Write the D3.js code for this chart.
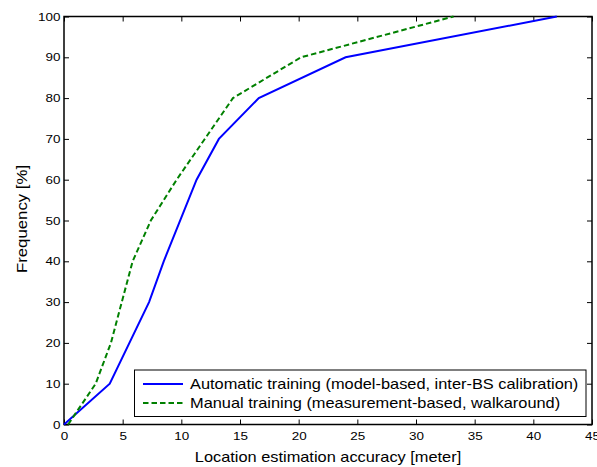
<!DOCTYPE html>
<html>
<head>
<meta charset="utf-8">
<script src="https://cdn.jsdelivr.net/npm/d3@7"></script>
<style>
  html, body { margin: 0; padding: 0; background: #fff; }
  svg { display: block; font-family: "Liberation Sans", Arial, sans-serif; }
</style>
</head>
<body>
<svg id="chart" width="597" height="467"></svg>
<script>
// CDF of location estimation error for two training methods
const seriesNames = [
  "Automatic training (model-based, inter-BS calibration)",
  "Manual training (measurement-based, walkaround)"
];
const autoAccuracy = [0, 3.9, 7.25, 8.5, 11.3, 13.2, 16.6, 24.0, 42.0];
const autoFrequency = [0, 10, 30, 40, 60, 70, 80, 90, 100];
const manualAccuracy = [0.35, 2.7, 4.0, 5.85, 7.4, 9.6, 14.4, 20.2, 33.2];
const manualFrequency = [0, 10, 20, 40, 50, 60, 80, 90, 100];
const xTicks = [0, 5, 10, 15, 20, 25, 30, 35, 40, 45];
const yTicks = [0, 10, 20, 30, 40, 50, 60, 70, 80, 90, 100];

const svg = d3.select("#chart");
const plotLeft = 64, plotRight = 592, plotTop = 16.5, plotBottom = 424.5;

const x = d3.scaleLinear().domain([0, 45]).range([plotLeft, plotRight]);
const y = d3.scaleLinear().domain([0, 100]).range([plotBottom, plotTop]);

const tickLen = 5;
const font = "Liberation Sans, Arial, sans-serif";
const stretch = 1.17; // text is set slightly wide

// Bottom axis with labels, ticks pointing inward
svg.append("g")
  .attr("transform", `translate(0,${plotBottom})`)
  .call(d3.axisBottom(x).tickValues(xTicks).tickSizeInner(-tickLen).tickSizeOuter(0).tickPadding(7))
  .call(g => g.select(".domain").remove())
  .call(g => g.selectAll("line").attr("stroke", "#000"))
  .call(g => g.selectAll("text").attr("font-size", 11.5).attr("fill", "#000").attr("font-family", font)
    .attr("transform", `scale(${stretch},1)`));

// Top axis (ticks only)
svg.append("g")
  .attr("transform", `translate(0,${plotTop})`)
  .call(d3.axisTop(x).tickValues(xTicks).tickSizeInner(-tickLen).tickSizeOuter(0).tickFormat(""))
  .call(g => g.select(".domain").remove())
  .call(g => g.selectAll("line").attr("stroke", "#000"));

// Left axis with labels
svg.append("g")
  .attr("transform", `translate(${plotLeft},0)`)
  .call(d3.axisLeft(y).tickValues(yTicks).tickSizeInner(-tickLen).tickSizeOuter(0).tickPadding(3))
  .call(g => g.select(".domain").remove())
  .call(g => g.selectAll("line").attr("stroke", "#000"))
  .call(g => g.selectAll("text").attr("font-size", 11.5).attr("fill", "#000").attr("font-family", font)
    .attr("transform", `scale(${stretch},1)`));

// Right axis (ticks only)
svg.append("g")
  .attr("transform", `translate(${plotRight},0)`)
  .call(d3.axisRight(y).tickValues(yTicks).tickSizeInner(-tickLen).tickSizeOuter(0).tickFormat(""))
  .call(g => g.select(".domain").remove())
  .call(g => g.selectAll("line").attr("stroke", "#000"));

// Plot frame
svg.append("rect")
  .attr("x", plotLeft).attr("y", plotTop)
  .attr("width", plotRight - plotLeft).attr("height", plotBottom - plotTop)
  .attr("fill", "none").attr("stroke", "#000").attr("stroke-width", 1.5);

const line = d3.line().x(d => x(d[0])).y(d => y(d[1]));

const autoData = autoAccuracy.map((v, i) => [v, autoFrequency[i]]);
const manualData = manualAccuracy.map((v, i) => [v, manualFrequency[i]]);

svg.append("path")
  .datum(autoData)
  .attr("d", line)
  .attr("fill", "none")
  .attr("stroke", "#0000ff")
  .attr("stroke-width", 2);

svg.append("path")
  .datum(manualData)
  .attr("d", line)
  .attr("fill", "none")
  .attr("stroke", "#008000")
  .attr("stroke-width", 2)
  .attr("stroke-dasharray", "5.5,3");

// Axis titles
svg.append("g")
  .attr("transform", `translate(${(plotLeft + plotRight) / 2},462) scale(${stretch},1)`)
  .append("text")
  .attr("text-anchor", "middle")
  .attr("font-size", 14)
  .text("Location estimation accuracy [meter]");

svg.append("g")
  .attr("transform", `translate(27,219) rotate(-90) scale(${stretch + 0.03},1)`)
  .append("text")
  .attr("text-anchor", "middle")
  .attr("font-size", 14)
  .text("Frequency [%]");

// Legend
const legend = svg.append("g");
legend.append("rect")
  .attr("x", 134.5).attr("y", 370)
  .attr("width", 451.5).attr("height", 46.5)
  .attr("fill", "#fff").attr("stroke", "#000").attr("stroke-width", 1);

const legendRows = [
  { name: seriesNames[0], color: "#0000ff", dash: null, y: 384 },
  { name: seriesNames[1], color: "#008000", dash: "5.5,3", y: 403 }
];
legendRows.forEach(r => {
  legend.append("line")
    .attr("x1", 143).attr("x2", 183)
    .attr("y1", r.y).attr("y2", r.y)
    .attr("stroke", r.color).attr("stroke-width", 2)
    .attr("stroke-dasharray", r.dash);
  legend.append("g")
    .attr("transform", `translate(190,${r.y}) scale(${stretch},1)`)
    .append("text")
    .attr("dy", "0.35em")
    .attr("font-size", 14)
    .text(r.name);
});
</script>
</body>
</html>
